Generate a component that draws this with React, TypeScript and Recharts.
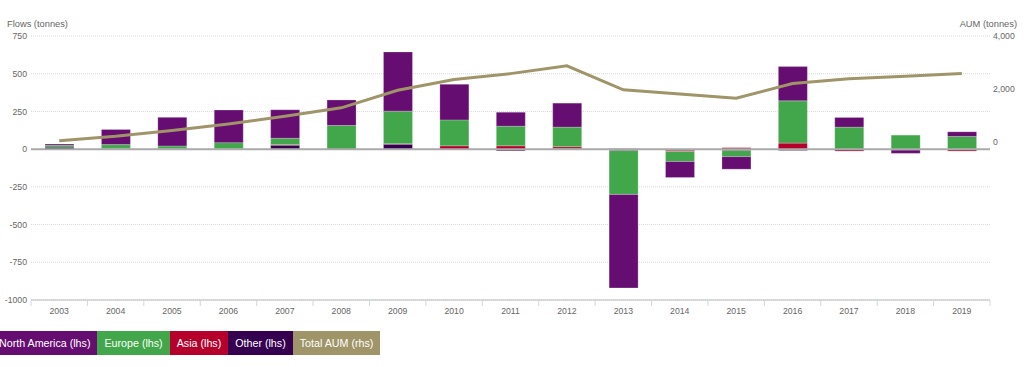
import React from "react";
import { ComposedChart, Bar, Line, XAxis, YAxis, CartesianGrid, ReferenceLine } from "recharts";

const years = ["2003", "2004", "2005", "2006", "2007", "2008", "2009", "2010", "2011", "2012", "2013", "2014", "2015", "2016", "2017", "2018", "2019"];
const northAmerica = [8, 100, 190, 216, 189, 169, 392, 236, 93, 159, -620, -106, -83, 227, 64, -22, 31];
const europe = [13, 25, 18, 40, 42, 157, 217, 172, 130, 130, -290, -66, -40, 280, 146, 93, 84];
const asia = [0, 0, 0, 0, 4, 0, 2, 22, 22, 13, 3, -8, 10, 40, -13, 0, -13];
const other = [13, 5, 3, 3, 26, 0, 33, 0, -11, 3, -10, -8, -10, -9, 0, -6, 0];
const totalAum = [35, 200, 417, 670, 960, 1280, 1945, 2350, 2575, 2870, 1960, 1805, 1640, 2200, 2385, 2475, 2575];

const flowTicks = [-1000, -750, -500, -250, 0, 250, 500, 750];
const aumTicks = [0, 2000, 4000];

const COLORS = {
  na: "#650d70",
  eu: "#42a64a",
  asia: "#b5002c",
  other: "#34004f",
  aum: "#a09469",
};

const legendItems = [
  { label: "North America (lhs)", color: COLORS.na },
  { label: "Europe (lhs)", color: COLORS.eu },
  { label: "Asia (lhs)", color: COLORS.asia },
  { label: "Other (lhs)", color: COLORS.other },
  { label: "Total AUM (rhs)", color: COLORS.aum },
];

const FONT = '"Liberation Sans", Arial, sans-serif';

// category label plus tick marks on the band edges
function YearTick(props: any) {
  const { x, y, payload, index, visibleTicksCount } = props;
  const half = payload.offset || 0;
  const axisY = y - 8;
  const isLast = index === visibleTicksCount - 1;
  return (
    <g>
      <line x1={x - half} x2={x - half} y1={axisY} y2={axisY + 6} stroke="#ccd6eb" />
      {isLast && <line x1={x + half} x2={x + half} y1={axisY} y2={axisY + 6} stroke="#ccd6eb" />}
      <text x={x} y={y} dy="0.71em" textAnchor="middle" fontSize={8.7} fill="#666" fontFamily={FONT}>
        {payload.value}
      </text>
    </g>
  );
}

export default function App() {
  const data = years.map((y, i) => ({
    year: y,
    na: northAmerica[i],
    eu: europe[i],
    asia: asia[i],
    other: other[i],
    aum: totalAum[i],
  }));

  const tickStyle = { fontSize: 8.7, fill: "#666", fontFamily: FONT };

  return (
    <div style={{ position: "absolute", left: 0, top: 0, width: 1024, height: 367, background: "#fff", fontFamily: FONT, overflow: "hidden" }}>
      <div style={{ position: "absolute", left: 7, top: 19, fontSize: 9.3, color: "#666" }}>Flows (tonnes)</div>
      <div style={{ position: "absolute", right: 7, top: 19, fontSize: 9.3, color: "#666" }}>AUM (tonnes)</div>
      <ComposedChart
        width={1024}
        height={320}
        data={data}
        stackOffset="sign"
        margin={{ top: 36, right: 0, bottom: 0, left: 0 }}
      >
        <CartesianGrid yAxisId="left" vertical={false} stroke="#d9d9d9" strokeDasharray="1 1" />
        <XAxis
          dataKey="year"
          tick={<YearTick />}
          tickLine={false}
          axisLine={{ stroke: "#bbb" }}
          tickSize={6}
          tickMargin={2}
          height={20}
          interval={0}
        />
        <YAxis
          yAxisId="left"
          domain={[-1000, 750]}
          ticks={flowTicks}
          tick={tickStyle}
          axisLine={false}
          tickLine={false}
          tickSize={2}
          tickMargin={2}
          width={31}
          interval={0}
        />
        <YAxis
          yAxisId="right"
          orientation="right"
          domain={[-6000, 4000]}
          ticks={aumTicks}
          tick={{ ...tickStyle, textAnchor: "start" }}
          tickFormatter={(v: number) => v.toLocaleString("en-US")}
          axisLine={false}
          tickLine={false}
          tickSize={1}
          tickMargin={2}
          width={34}
          interval={0}
        />
        <ReferenceLine yAxisId="left" y={0} stroke="#aaa" strokeWidth={2} />
        <Bar yAxisId="left" dataKey="other" stackId="flows" fill={COLORS.other} barSize={29} isAnimationActive={false} stroke="#fff" strokeOpacity={0.4} strokeWidth={0.6} />
        <Bar yAxisId="left" dataKey="asia" stackId="flows" fill={COLORS.asia} barSize={29} isAnimationActive={false} stroke="#fff" strokeOpacity={0.4} strokeWidth={0.6} />
        <Bar yAxisId="left" dataKey="eu" stackId="flows" fill={COLORS.eu} barSize={29} isAnimationActive={false} stroke="#fff" strokeOpacity={0.4} strokeWidth={0.6} />
        <Bar yAxisId="left" dataKey="na" stackId="flows" fill={COLORS.na} barSize={29} isAnimationActive={false} stroke="#fff" strokeOpacity={0.4} strokeWidth={0.6} />
        <Line yAxisId="right" type="linear" dataKey="aum" stroke={COLORS.aum} strokeWidth={3} dot={false} activeDot={false} isAnimationActive={false} />
      </ComposedChart>
      <div style={{ position: "absolute", left: -8, top: 331, display: "flex", height: 24 }}>
        {legendItems.map((item) => (
          <div
            key={item.label}
            style={{
              background: item.color,
              color: "#fff",
              fontSize: 10.7,
              lineHeight: "24px",
              padding: "0 7px",
              whiteSpace: "nowrap",
            }}
          >
            {item.label}
          </div>
        ))}
      </div>
    </div>
  );
}
